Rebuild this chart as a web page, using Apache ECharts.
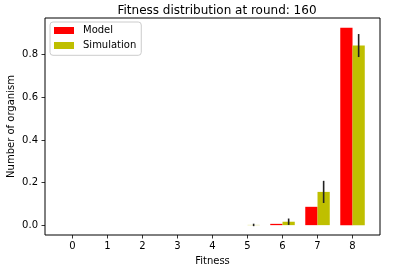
<!DOCTYPE html>
<html><head><meta charset="utf-8">
<script src="https://cdn.jsdelivr.net/npm/echarts@6/dist/echarts.min.js"></script>
<style>html,body{margin:0;padding:0;background:#fff}#c{width:396px;height:270px}</style>
</head><body><div id="c"></div>
<script>
const categories = [0, 1, 2, 3, 4, 5, 6, 7, 8];
const modelValues = [0, 0, 0, 0, 0, 0, 0.006, 0.086, 0.926];
const simValues = [0, 0, 0, 0, 0, 0.001, 0.016, 0.156, 0.843];
const simErrors = [0, 0, 0, 0, 0, 0.002, 0.015, 0.052, 0.054];
const yTicks = [0, 0.2, 0.4, 0.6, 0.8];

const barW = 0.35;
const FONT = 'DejaVu Sans';
const chart = echarts.init(document.getElementById('c'), null, {renderer: 'canvas'});
chart.setOption({
  animation: false,
  backgroundColor: '#fff',
  title: {
    text: 'Fitness distribution at round: 160',
    left: 212, top: 0, textAlign: 'center',
    textStyle: {fontFamily: FONT, fontSize: 12, fontWeight: 'normal', color: '#000'}
  },
  legend: {
    orient: 'vertical', left: 50, top: 22,
    icon: 'rect',
    itemWidth: 20, itemHeight: 7, itemGap: 3,
    padding: [2.5, 5, 3.8, 4],
    borderColor: '#ccc', borderWidth: 1, borderRadius: 3,
    backgroundColor: 'rgba(255,255,255,0.8)',
    textStyle: {fontFamily: FONT, fontSize: 10, color: '#000', lineHeight: 12, padding: [0, 0, 0, 4]},
    data: ['Model', 'Simulation']
  },
  grid: {left: 45, right: 16, top: 18, bottom: 35, containLabel: false, outerBoundsMode: 'none',
    show: true, borderColor: '#000', borderWidth: 1, backgroundColor: 'transparent'},
  xAxis: {
    type: 'value', min: -0.785, max: 8.785,
    name: 'Fitness', nameLocation: 'middle', nameGap: 21, nameMoveOverlap: false,
    nameTextStyle: {fontFamily: FONT, fontSize: 10, color: '#000'},
    axisLine: {show: false, onZero: false},
    splitLine: {show: false},
    axisTick: {show: true, length: 3.5, lineStyle: {color: '#000', width: 0.8}, customValues: categories},
    axisLabel: {fontFamily: FONT, fontSize: 10, color: '#000', margin: 6, customValues: categories,
      formatter: v => String(Math.round(v))}
  },
  yAxis: {
    type: 'value', min: -0.0463, max: 0.9723,
    name: 'Number of organism', nameLocation: 'middle', nameGap: 29, nameMoveOverlap: false,
    nameTextStyle: {fontFamily: FONT, fontSize: 10, color: '#000'},
    axisLine: {show: false, onZero: false},
    splitLine: {show: false},
    axisTick: {show: true, length: 3.5, lineStyle: {color: '#000', width: 0.8}, customValues: yTicks},
    axisLabel: {fontFamily: FONT, fontSize: 10, color: '#000', margin: 7, customValues: yTicks,
      formatter: v => v.toFixed(1)}
  },
  series: [
    {
      name: 'Model', type: 'custom', itemStyle: {color: '#ff0000'},
      data: categories.map((c, i) => [c, modelValues[i]]),
      renderItem: (params, api) => {
        const x = api.value(0), y = api.value(1);
        const p0 = api.coord([x - barW, y]);
        const p1 = api.coord([x, 0]);
        return {type: 'rect', shape: {x: p0[0], y: p0[1], width: p1[0] - p0[0], height: p1[1] - p0[1]},
          style: {fill: '#ff0000'}};
      }
    },
    {
      name: 'Simulation', type: 'custom', itemStyle: {color: '#bfbf00'},
      data: categories.map((c, i) => [c, simValues[i]]),
      renderItem: (params, api) => {
        const x = api.value(0), y = api.value(1);
        const p0 = api.coord([x, y]);
        const p1 = api.coord([x + barW, 0]);
        return {type: 'rect', shape: {x: p0[0], y: p0[1], width: p1[0] - p0[0], height: p1[1] - p0[1]},
          style: {fill: '#bfbf00'}};
      }
    },
    {
      name: 'err', type: 'custom',
      data: categories.map((c, i) => [c, simValues[i], simErrors[i]]),
      renderItem: (params, api) => {
        const x = api.value(0) + barW / 2, y = api.value(1), e = api.value(2);
        if (y === 0 && e === 0) return null;
        const a = api.coord([x, y + e]);
        const b = api.coord([x, Math.max(y - e, -0.002)]);
        if (Math.abs(b[1] - a[1]) < 1.5) { a[1] -= 0.8; b[1] += 0.8; }
        return {type: 'line', shape: {x1: a[0], y1: a[1], x2: b[0], y2: b[1]},
          style: {stroke: '#222', lineWidth: 1.6}};
      }
    }
  ]
});
</script></body></html>
